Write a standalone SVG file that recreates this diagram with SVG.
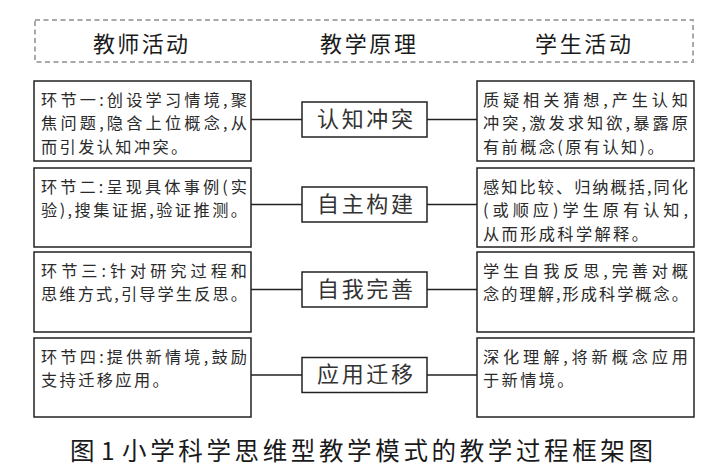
<svg xmlns="http://www.w3.org/2000/svg" width="726" height="474" viewBox="0 0 726 474">
<style>
.bg{fill:#fff}
.box{fill:#fff;stroke:#222;stroke-width:1.5}
.hdr{fill:none;stroke:#a9a9a9;stroke-width:2;stroke-dasharray:5 3.5}
.ln{stroke:#222;stroke-width:1.3;fill:none}
.t{font-family:"Noto Sans CJK SC","Noto Sans CJK TC",sans-serif;font-size:16.2px;fill:#2a2a2a}
.p{letter-spacing:2.4px}
.m{font-family:"Noto Sans CJK SC",sans-serif;font-size:22px;fill:#333}
.h{font-family:"Noto Sans CJK SC",sans-serif;font-size:22px;fill:#1a1a1a}
.cap{font-family:"Noto Sans CJK SC",sans-serif;font-size:24.5px;fill:#1a1a1a}
</style>
<rect class="bg" width="726" height="474"/>
<g id="header">
<rect class="hdr" x="35" y="20" width="658" height="42"/>
<text class="h" x="93" y="51.5" textLength="95" lengthAdjust="spacing">教师活动</text>
<text class="h" x="320" y="51.5" textLength="96" lengthAdjust="spacing">教学原理</text>
<text class="h" x="535" y="51.5" textLength="96" lengthAdjust="spacing">学生活动</text>
</g>
<g id="connectors">
<line class="ln" x1="251" y1="119.5" x2="302" y2="119.5"/>
<line class="ln" x1="427" y1="119.5" x2="477" y2="119.5"/>
<line class="ln" x1="251" y1="204.5" x2="302" y2="204.5"/>
<line class="ln" x1="427" y1="204.5" x2="477" y2="204.5"/>
<line class="ln" x1="251" y1="289.5" x2="302" y2="289.5"/>
<line class="ln" x1="427" y1="289.5" x2="477" y2="289.5"/>
<line class="ln" x1="251" y1="375" x2="302" y2="375"/>
<line class="ln" x1="427" y1="375" x2="477" y2="375"/>
</g>
<g id="teacher1">
<rect class="box" x="34" y="81" width="217" height="80"/>
<text class="t" x="41" y="105.5" textLength="206" lengthAdjust="spacing">环节一:创设学习情境,聚</text>
<text class="t" x="41" y="129" textLength="206" lengthAdjust="spacing">焦问题,隐含上位概念,从</text>
<text class="t p" x="41" y="152.5">而引发认知冲突。</text>
</g>
<g id="teacher2">
<rect class="box" x="34" y="168" width="217" height="79"/>
<text class="t" x="41" y="192.5" textLength="206" lengthAdjust="spacing">环节二:呈现具体事例(实</text>
<text class="t" x="41" y="216" textLength="206" lengthAdjust="spacing">验),搜集证据,验证推测。</text>
</g>
<g id="teacher3">
<rect class="box" x="34" y="252" width="217" height="80"/>
<text class="t" x="41" y="276.5" textLength="206" lengthAdjust="spacing">环节三:针对研究过程和</text>
<text class="t" x="41" y="300" textLength="206" lengthAdjust="spacing">思维方式,引导学生反思。</text>
</g>
<g id="teacher4">
<rect class="box" x="34" y="338" width="217" height="79"/>
<text class="t" x="41" y="362.5" textLength="206" lengthAdjust="spacing">环节四:提供新情境,鼓励</text>
<text class="t p" x="41" y="386">支持迁移应用。</text>
</g>
<g id="principle1">
<rect class="box" x="302" y="102" width="125" height="35"/>
<text class="m" x="317" y="126.5" textLength="96" lengthAdjust="spacing">认知冲突</text>
</g>
<g id="principle2">
<rect class="box" x="302" y="187" width="125" height="35"/>
<text class="m" x="317" y="211.5" textLength="96" lengthAdjust="spacing">自主构建</text>
</g>
<g id="principle3">
<rect class="box" x="302" y="272" width="125" height="35"/>
<text class="m" x="317" y="296.5" textLength="96" lengthAdjust="spacing">自我完善</text>
</g>
<g id="principle4">
<rect class="box" x="302" y="357.5" width="125" height="35"/>
<text class="m" x="317" y="382" textLength="96" lengthAdjust="spacing">应用迁移</text>
</g>
<g id="student1">
<rect class="box" x="477" y="81" width="217" height="80"/>
<text class="t" x="483" y="105.5" textLength="205" lengthAdjust="spacing">质疑相关猜想,产生认知</text>
<text class="t" x="483" y="129" textLength="205" lengthAdjust="spacing">冲突,激发求知欲,暴露原</text>
<text class="t p" x="483" y="152.5">有前概念(原有认知)。</text>
</g>
<g id="student2">
<rect class="box" x="477" y="168" width="217" height="79"/>
<text class="t" x="483" y="192.5" textLength="205" lengthAdjust="spacing">感知比较、归纳概括,同化</text>
<text class="t" x="483" y="216" textLength="205" lengthAdjust="spacing">(或顺应)学生原有认知,</text>
<text class="t p" x="483" y="239.5">从而形成科学解释。</text>
</g>
<g id="student3">
<rect class="box" x="477" y="252" width="217" height="80"/>
<text class="t" x="483" y="276.5" textLength="205" lengthAdjust="spacing">学生自我反思,完善对概</text>
<text class="t" x="483" y="300" textLength="205" lengthAdjust="spacing">念的理解,形成科学概念。</text>
</g>
<g id="student4">
<rect class="box" x="477" y="338" width="217" height="79"/>
<text class="t" x="483" y="362.5" textLength="205" lengthAdjust="spacing">深化理解,将新概念应用</text>
<text class="t p" x="483" y="386">于新情境。</text>
</g>
<g id="caption">
<text class="cap" y="460"><tspan x="70">图</tspan><tspan x="101">1 </tspan><tspan x="122" textLength="531" lengthAdjust="spacing">小学科学思维型教学模式的教学过程框架图</tspan></text>
</g>
</svg>
